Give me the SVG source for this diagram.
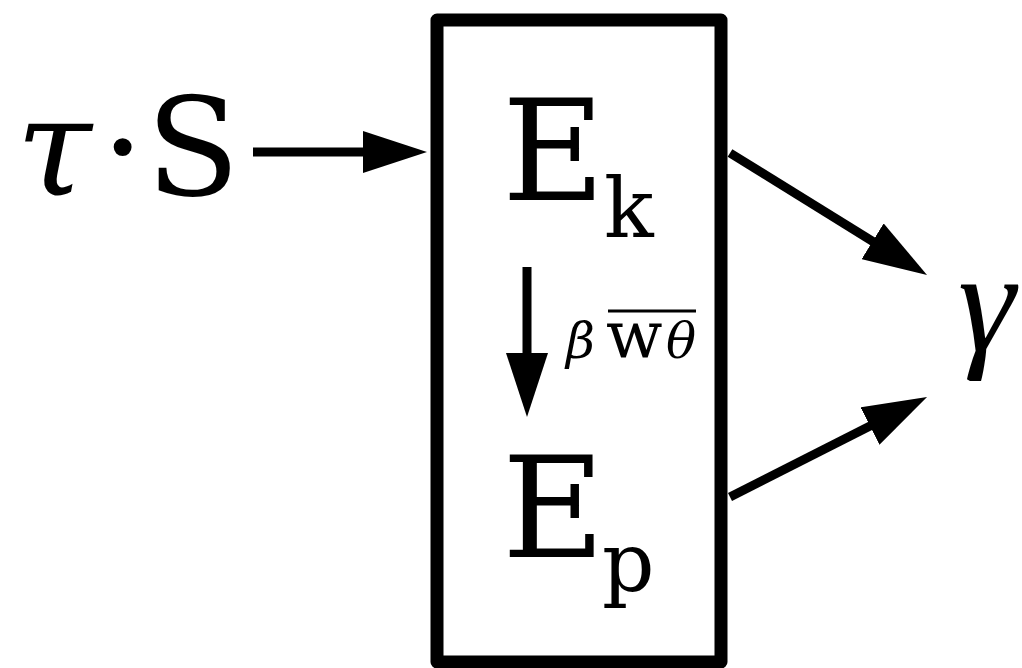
<svg xmlns="http://www.w3.org/2000/svg" width="1022" height="668" viewBox="0 0 1022 668">
<style>
.t{font-family:"DejaVu Serif","Liberation Serif",serif;fill:#000}
.i{font-style:italic}
.c{stroke:#000;stroke-width:9;fill:none}
</style>
<defs>
<marker id="ah" markerUnits="userSpaceOnUse" markerWidth="64" markerHeight="42" refX="20" refY="21" orient="auto" viewBox="0 0 64 42">
<path d="M0,0 L64,21 L0,42 z" fill="#000"/>
</marker>
</defs>
<rect width="1022" height="668" fill="#fff"/>
<g id="box">
<rect x="437" y="20" width="284" height="642" fill="none" stroke="#000" stroke-width="13" stroke-linejoin="round"/>
</g>
<g id="input">
<text class="t" y="195" font-size="137"><tspan class="i" x="16">τ</tspan><tspan x="101">·</tspan><tspan x="146">S</tspan></text>
</g>
<g id="Ek">
<text class="t" x="502" y="200" font-size="141">E<tspan font-size="82" x="604" dy="37">k</tspan></text>
</g>
<g id="Ep">
<text class="t" x="502" y="557" font-size="141">E<tspan font-size="82" x="602" dy="34">p</tspan></text>
</g>
<g id="gamma">
<text x="958" y="350" font-size="145" font-style="italic" font-family="'Liberation Serif',serif">γ</text>
</g>
<g id="label">
<text class="t" x="566" y="358" font-size="50"><tspan class="i">β</tspan><tspan x="606" font-size="66">w</tspan><tspan x="666" class="i">θ</tspan></text>
<line x1="608" y1="311" x2="696" y2="311" stroke="#000" stroke-width="3"/>
</g>
<g id="connectors">
<line class="c" x1="253" y1="152" x2="383" y2="152" marker-end="url(#ah)"/>
<line class="c" stroke-width="10" x1="527" y1="267" x2="527" y2="373" marker-end="url(#ah)"/>
<line class="c" x1="730" y1="153" x2="889.6" y2="251.8" marker-end="url(#ah)"/>
<line class="c" x1="730" y1="497" x2="887.8" y2="416.9" marker-end="url(#ah)"/>
</g>
</svg>
